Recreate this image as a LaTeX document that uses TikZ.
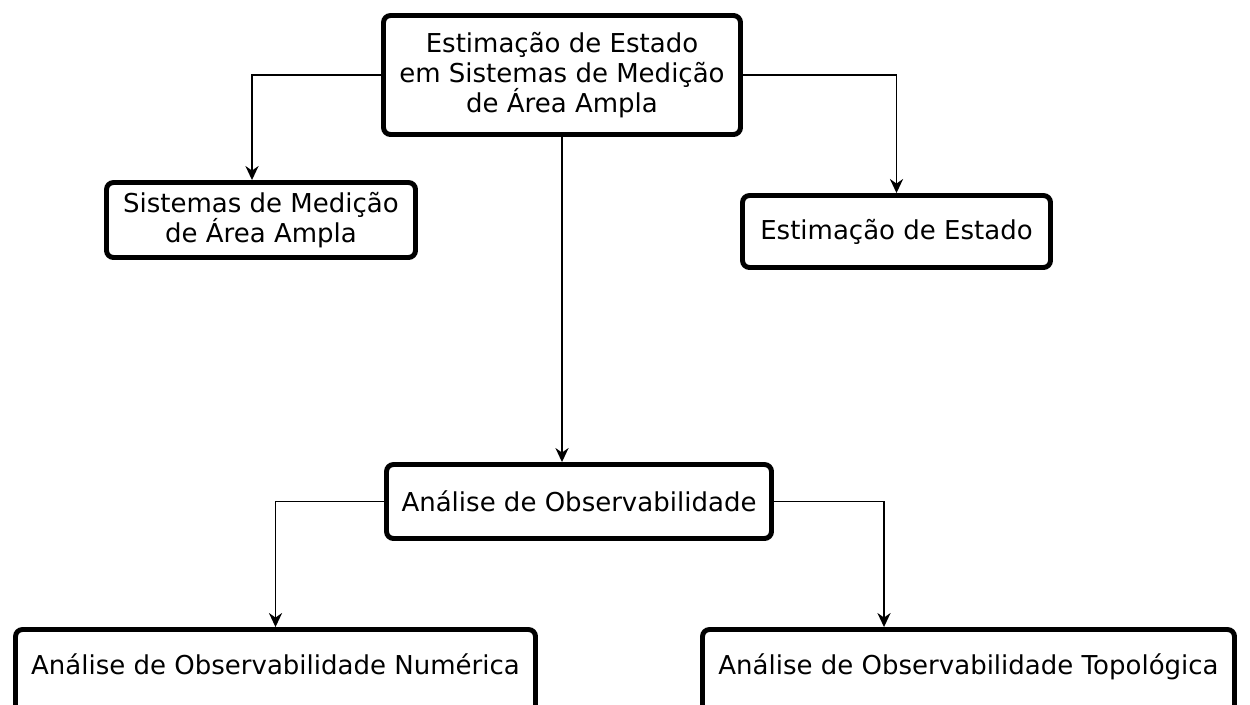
\documentclass[tikz,border=0pt]{standalone}
\usepackage{fontspec}
\setmainfont{DejaVu Sans}
\usetikzlibrary{arrows.meta}

\tikzset{
  caixa/.style={draw, line width=2.8pt, rounded corners=4pt, fill=white, align=center,
    inner sep=0pt, font=\fontsize{14.8}{17.2}\selectfont},
  seta/.style={-{Stealth[length=8pt,width=7.5pt]}, line width=0.8pt},
}

\begin{document}
\begin{tikzpicture}
  \useasboundingbox (0,0) rectangle (25,-14.08);
  \node[caixa, minimum width=7.14cm, minimum height=2.38cm] (topo) at (11.24,-1.5) {Estimação de Estado\\em Sistemas de Medição\\de Área Ampla};
  \node[caixa, minimum width=6.18cm, minimum height=1.5cm] (sist) at (5.22,-4.4) {Sistemas de Medição\\de Área Ampla};
  \node[caixa, minimum width=6.16cm, minimum height=1.44cm] (est) at (17.93,-4.63) {Estimação de Estado};
  \node[caixa, minimum width=7.7cm, minimum height=1.48cm] (obs) at (11.58,-10.03) {Análise de Observabilidade};
  % caixas cortadas pela borda de baixo
  \node[caixa, minimum width=10.4cm, minimum height=1.7cm, text depth=0.3cm] (num) at (5.51,-13.44) {Análise de Observabilidade Numérica};
  \node[caixa, minimum width=10.64cm, minimum height=1.7cm, text depth=0.3cm] (topol) at (19.37,-13.44) {Análise de Observabilidade Topológica};

  \draw[seta] (topo.west) -| ([xshift=-0.18cm]sist.north);
  \draw[seta] (topo.east) -| (est.north);
  \draw[seta] (topo.south) -- (topo.south |- obs.north);
  \draw[seta] (obs.west) -| (num.north);
  \draw[seta] (obs.east) -| ([xshift=-1.69cm]topol.north);
\end{tikzpicture}
\end{document}
